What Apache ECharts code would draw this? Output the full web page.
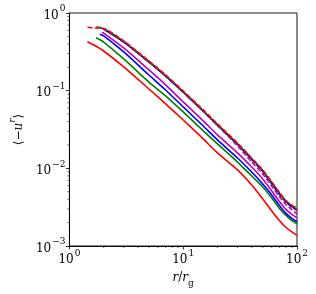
<!DOCTYPE html>
<html><head><meta charset="utf-8">
<script src="https://cdn.jsdelivr.net/npm/echarts@6/dist/echarts.min.js"></script>
<style>html,body{margin:0;padding:0;background:#fff}#c{width:316px;height:294px}</style>
</head><body><div id="c"></div>
<script>
// common radii (r / r_g)
const R = [2, 3, 5, 7, 10, 15, 20, 30, 40, 50, 60, 70, 80, 90, 100];
// solid curves: leading points [r, value] then values on R
const redSolidStart = [[1.44, 0.427], [1.7, 0.376]];
const redSolid = [0.324, 0.202, 0.105, 0.0676, 0.0419, 0.0239, 0.0158, 0.00955, 0.00611, 0.00404, 0.00283, 0.00213, 0.00173, 0.00152, 0.00137];
const greenSolidStart = [[1.71, 0.481]];
const greenSolid = [0.423, 0.256, 0.129, 0.0857, 0.0532, 0.0303, 0.0206, 0.01205, 0.00796, 0.00576, 0.00416, 0.00305, 0.00248, 0.00213, 0.00193];
const blueSolidStart = [[1.85, 0.532]];
const blueSolid = [0.506, 0.315, 0.159, 0.102, 0.0617, 0.0351, 0.0232, 0.0136, 0.00896, 0.00630, 0.00454, 0.00333, 0.00263, 0.00227, 0.00205];
const magentaSolidStart = [[1.93, 0.565]];
const magentaSolid = [0.552, 0.355, 0.185, 0.119, 0.0716, 0.0408, 0.0269, 0.0158, 0.0104, 0.00731, 0.00512, 0.00375, 0.00296, 0.00255, 0.00230];
const blackSolidStart = [];
const blackSolid = [0.622, 0.424, 0.234, 0.155, 0.0962, 0.0548, 0.0362, 0.0206, 0.0132, 0.00926, 0.00649, 0.00476, 0.00375, 0.00323, 0.00292];
// dashed curves
const redDashStart = [[1.44, 0.654], [1.7, 0.640]];
const redDash = [0.630, 0.437, 0.241, 0.160, 0.0990, 0.0565, 0.0373, 0.0212, 0.0136, 0.0095, 0.0067, 0.00488, 0.00383, 0.00335, 0.00286];
const greenDashStart = [[1.72, 0.666]];
const greenDash = [0.635, 0.430, 0.237, 0.157, 0.0975, 0.0555, 0.0366, 0.0208, 0.0134, 0.0094, 0.0066, 0.00486, 0.00385, 0.00333, 0.00310];
const blueDashStart = [[1.85, 0.640]];
const blueDash = [0.625, 0.425, 0.235, 0.155, 0.0960, 0.0548, 0.0360, 0.0204, 0.0130, 0.0091, 0.00631, 0.00464, 0.00368, 0.00317, 0.00288];
const magentaDashStart = [[1.95, 0.630]];
const magentaDash = [0.620, 0.420, 0.232, 0.153, 0.0950, 0.0540, 0.0355, 0.0195, 0.0121, 0.00843, 0.0059, 0.00433, 0.00342, 0.00294, 0.00259];

const xMinorTicks = [2,3,4,5,6,7,8,9,20,30,40,50,60,70,80,90];
const yMinorTicks = [0.002,0.003,0.004,0.005,0.006,0.007,0.008,0.009,0.02,0.03,0.04,0.05,0.06,0.07,0.08,0.09,0.2,0.3,0.4,0.5,0.6,0.7,0.8,0.9];

const FONT = 'DejaVu Serif';
function build(start, vals) { return start.concat(R.map((r, i) => [r, vals[i]])); }
function lineSeries(start, vals, color, dashed, z) {
  return { type: 'line', data: build(start, vals), showSymbol: false, smooth: 0.25, z: z,
    lineStyle: { color: color, width: 1.6, type: dashed ? [5, 2.2] : 'solid' }, silent: true, animation: false };
}
function supLabel(v) {
  const e = Math.round(Math.log10(v));
  const s = e < 0 ? '\u2212' + (-e) : String(e);
  return '{b|10}{s|' + s + '}';
}
const rich = {
  b: { fontFamily: FONT, fontSize: 12, color: '#000', lineHeight: 17, verticalAlign: 'bottom' },
  s: { fontFamily: FONT, fontSize: 9, color: '#000', lineHeight: 17, verticalAlign: 'top', padding: [0, 0, 0, 1] }
};
const chart = echarts.init(document.getElementById('c'), null, { renderer: 'canvas' });
chart.setOption({
  animation: false,
  grid: { left: 65, right: 19, top: 13, bottom: 48, show: true, borderColor: '#000', borderWidth: 0.9 },
  xAxis: {
    type: 'log', logBase: 10, min: 1, max: 100,
    axisLine: { show: true, lineStyle: { color: '#000', width: 0.9 } },
    axisTick: { show: true, inside: false, length: 3.5, lineStyle: { color: '#000', width: 0.8 } },
    splitLine: { show: false },
    axisLabel: { formatter: supLabel, rich: rich, margin: 3 },
    name: '{i|r}{a|/}{i|r}{g|g}', nameLocation: 'middle', nameGap: 26,
    nameTextStyle: { rich: {
      i: { fontFamily: FONT, fontStyle: 'italic', fontSize: 12, color: '#000', lineHeight: 16, verticalAlign: 'top' },
      a: { fontFamily: FONT, fontSize: 12, color: '#000', lineHeight: 16, verticalAlign: 'top' },
      g: { fontFamily: FONT, fontSize: 9, color: '#000', lineHeight: 16, verticalAlign: 'bottom' } } }
  },
  yAxis: {
    type: 'log', logBase: 10, min: 0.001, max: 1,
    axisLine: { show: true, lineStyle: { color: '#000', width: 0.9 } },
    axisTick: { show: true, inside: false, length: 3.5, lineStyle: { color: '#000', width: 0.8 } },
    splitLine: { show: false },
    axisLabel: { formatter: supLabel, rich: rich, margin: 4 },
    name: '{a|\u27e8\u2212}{i|u}{s|r}{a|\u27e9}', nameLocation: 'middle', nameGap: 44, nameRotate: 90,
    nameTextStyle: { rich: {
      a: { fontFamily: FONT, fontSize: 12, color: '#000', lineHeight: 17, verticalAlign: 'bottom' },
      i: { fontFamily: FONT, fontStyle: 'italic', fontSize: 12, color: '#000', lineHeight: 17, verticalAlign: 'bottom' },
      s: { fontFamily: FONT, fontStyle: 'italic', fontSize: 9, color: '#000', lineHeight: 17, verticalAlign: 'top' } } }
  },
  series: [
    lineSeries(redSolidStart, redSolid, '#ff0000', false, 2),
    lineSeries(greenSolidStart, greenSolid, '#008000', false, 2),
    lineSeries(blueSolidStart, blueSolid, '#0000ff', false, 2),
    lineSeries(magentaSolidStart, magentaSolid, '#bf00bf', false, 2),
    lineSeries(blackSolidStart, blackSolid, '#000000', false, 3),
    lineSeries(magentaDashStart, magentaDash, '#bf00bf', true, 4),
    lineSeries(blueDashStart, blueDash, '#0000ff', true, 4),
    lineSeries(greenDashStart, greenDash, '#008000', true, 4),
    lineSeries(redDashStart, redDash, '#ff0000', true, 5),
    { type: 'custom', silent: true, z: 10, clip: false, data: xMinorTicks.map(v => [v, 0.001]),
      renderItem: function (params, api) {
        const p = api.coord([api.value(0), api.value(1)]);
        return { type: 'line', shape: { x1: p[0], y1: p[1], x2: p[0], y2: p[1] + 2 }, style: { stroke: '#000', lineWidth: 0.6 } };
      } },
    { type: 'custom', silent: true, z: 10, clip: false, data: yMinorTicks.map(v => [1, v]),
      renderItem: function (params, api) {
        const p = api.coord([api.value(0), api.value(1)]);
        return { type: 'line', shape: { x1: p[0], y1: p[1], x2: p[0] - 2, y2: p[1] }, style: { stroke: '#000', lineWidth: 0.6 } };
      } }
  ]
});
</script></body></html>
